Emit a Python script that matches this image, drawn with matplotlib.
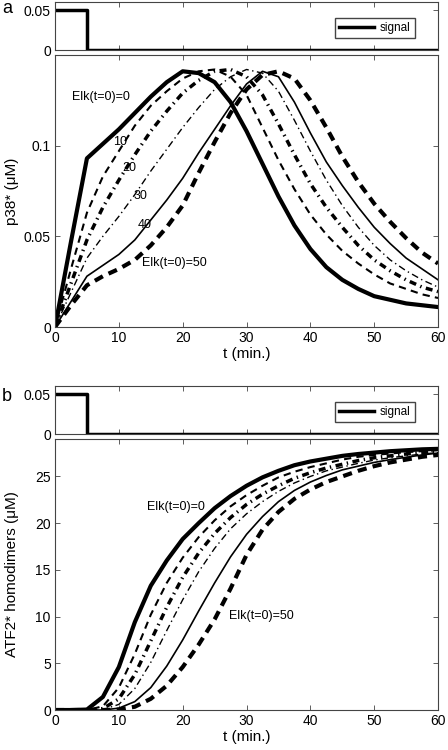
import numpy as np
import matplotlib.pyplot as plt

plt.rcParams['font.family'] = ['Liberation Sans', 'DejaVu Sans']

# time grid (min.)
t = [0, 2.5, 5, 7.5, 10, 12.5, 15, 17.5, 20, 22.5, 25, 27.5, 30,
     32.5, 35, 37.5, 40, 42.5, 45, 47.5, 50, 52.5, 55, 57.5, 60]

# signal pulse
t_sig = [0, 5, 5, 60]
sig = [0.05, 0.05, 0, 0]

elk0 = [0, 10, 20, 30, 40, 50]

# panel a: p38* (uM)
p38_0 = [0, 0.047, 0.093, 0.101, 0.109, 0.118, 0.127, 0.135, 0.141, 0.140, 0.135, 0.124, 0.108,
         0.090, 0.072, 0.056, 0.043, 0.033, 0.026, 0.021, 0.017, 0.015, 0.013, 0.012, 0.011]
p38_10 = [0, 0.032, 0.063, 0.083, 0.097, 0.111, 0.122, 0.130, 0.137, 0.141, 0.142, 0.138, 0.128,
          0.110, 0.092, 0.076, 0.062, 0.051, 0.042, 0.035, 0.029, 0.024, 0.021, 0.018, 0.016]
p38_20 = [0, 0.024, 0.048, 0.066, 0.081, 0.095, 0.108, 0.119, 0.129, 0.136, 0.141, 0.142, 0.138,
          0.128, 0.112, 0.095, 0.079, 0.066, 0.055, 0.045, 0.037, 0.031, 0.026, 0.022, 0.0195]
p38_30 = [0, 0.019, 0.038, 0.050, 0.061, 0.073, 0.086, 0.098, 0.110, 0.121, 0.131, 0.138, 0.142,
          0.140, 0.130, 0.114, 0.097, 0.081, 0.067, 0.055, 0.045, 0.037, 0.031, 0.026, 0.022]
p38_40 = [0, 0.014, 0.028, 0.034, 0.040, 0.048, 0.059, 0.070, 0.082, 0.096, 0.109, 0.122, 0.134,
          0.141, 0.138, 0.124, 0.107, 0.091, 0.078, 0.066, 0.055, 0.046, 0.038, 0.032, 0.026]
p38_50 = [0, 0.012, 0.023, 0.028, 0.032, 0.037, 0.045, 0.055, 0.067, 0.085, 0.102, 0.118, 0.131,
          0.139, 0.141, 0.137, 0.125, 0.110, 0.094, 0.080, 0.068, 0.058, 0.049, 0.041, 0.035]

# panel b: ATF2* homodimers (uM)
atf_0 = [0, 0, 0.05, 1.4, 4.6, 9.4, 13.3, 16.0, 18.3, 20.0, 21.6, 22.9, 24.0,
         24.9, 25.6, 26.2, 26.6, 26.9, 27.2, 27.4, 27.55, 27.7, 27.8, 27.9, 27.95]
atf_10 = [0, 0, 0, 0.4, 2.4, 6.0, 10.2, 13.6, 16.3, 18.5, 20.3, 21.8, 23.0,
          24.0, 24.9, 25.5, 26.0, 26.4, 26.8, 27.1, 27.3, 27.45, 27.6, 27.7, 27.8]
atf_20 = [0, 0, 0, 0.15, 1.2, 3.8, 7.4, 11.0, 14.2, 16.8, 18.9, 20.6, 22.0,
          23.1, 24.0, 24.8, 25.4, 25.9, 26.3, 26.7, 27.0, 27.2, 27.4, 27.55, 27.7]
atf_30 = [0, 0, 0, 0.05, 0.6, 2.3, 5.1, 8.5, 11.8, 14.8, 17.3, 19.4, 21.0,
          22.3, 23.4, 24.3, 25.0, 25.6, 26.0, 26.4, 26.75, 27.0, 27.2, 27.4, 27.55]
atf_40 = [0, 0, 0, 0, 0.2, 0.9, 2.4, 4.7, 7.5, 10.6, 13.6, 16.4, 18.8,
          20.7, 22.3, 23.5, 24.4, 25.1, 25.7, 26.1, 26.5, 26.8, 27.05, 27.3, 27.5]
atf_50 = [0, 0, 0, 0, 0.05, 0.35, 1.2, 2.6, 4.6, 7.0, 9.7, 13.0, 16.6,
          19.3, 21.2, 22.6, 23.6, 24.4, 25.0, 25.6, 26.1, 26.5, 26.8, 27.1, 27.3]

p38 = [p38_0, p38_10, p38_20, p38_30, p38_40, p38_50]
atf = [atf_0, atf_10, atf_20, atf_30, atf_40, atf_50]

styles = [
    dict(lw=3.0, ls='-'),
    dict(lw=1.5, dashes=(3.5, 2.5)),
    dict(lw=2.5, dashes=(2, 1.3, 0.4, 1.3)),
    dict(lw=1.0, dashes=(5, 2.5, 1, 2.5)),
    dict(lw=1.2, ls='-'),
    dict(lw=3.0, dashes=(2.2, 1.5)),
]

frame = '#444444'


def style_axes(ax):
    ax.tick_params(direction='in', top=True, right=True, length=3.5, width=0.6,
                   color=frame, labelsize=10, pad=3)
    for s in ax.spines.values():
        s.set_linewidth(0.8)
        s.set_color(frame)
    ax.set_xlim(0, 60)
    ax.set_xticks(range(0, 61, 10))


def signal_axes(rect):
    ax = fig.add_axes(rect)
    ax.plot(t_sig, sig, color='k', lw=2.5, label='signal')
    style_axes(ax)
    ax.set_ylim(0, 0.06)
    ax.set_yticks([0, 0.05])
    ax.set_yticklabels(['0', '0.05'])
    ax.set_xticklabels([])
    ax.legend(loc='upper right', bbox_to_anchor=(0.955, 0.8), fontsize=8.5,
              handlelength=3.0, fancybox=False, edgecolor=frame,
              framealpha=1, borderpad=0.35, handletextpad=0.5)
    return ax


fig = plt.figure(figsize=(4.48, 7.5), dpi=100)

# ---- panel a ----
signal_axes([0.1228, 0.9333, 0.855, 0.064])
ax = fig.add_axes([0.1228, 0.564, 0.855, 0.3627])
for y, st in zip(p38, styles):
    ax.plot(t, y, color='k', **st)
style_axes(ax)
ax.set_ylim(0, 0.15)
ax.set_yticks([0, 0.05, 0.1])
ax.set_yticklabels(['0', '0.05', '0.1'])
ax.set_xlabel('t (min.)', fontsize=11, labelpad=1)
ax.set_ylabel('p38* (μM)', fontsize=11)
ax.yaxis.set_label_coords(-0.095, 0.5)
ax.text(2.66, 0.127, 'Elk(t=0)=0', fontsize=9, va='center')
ax.text(9.1, 0.102, '10', fontsize=9, va='center')
ax.text(10.5, 0.0877, '20', fontsize=9, va='center')
ax.text(12.3, 0.072, '30', fontsize=9, va='center')
ax.text(13.0, 0.0564, '40', fontsize=9, va='center')
ax.text(13.6, 0.0352, 'Elk(t=0)=50', fontsize=9, va='center')

# ---- panel b ----
signal_axes([0.1228, 0.4213, 0.855, 0.064])
ax = fig.add_axes([0.1228, 0.0533, 0.855, 0.3613])
for y, st in zip(atf, styles):
    ax.plot(t, y, color='k', **st)
style_axes(ax)
ax.set_ylim(0, 29)
ax.set_yticks([0, 5, 10, 15, 20, 25])
ax.set_xlabel('t (min.)', fontsize=11, labelpad=1)
ax.set_ylabel('ATF2* homodimers (μM)', fontsize=11)
ax.yaxis.set_label_coords(-0.095, 0.5)
ax.text(14.4, 21.7, 'Elk(t=0)=0', fontsize=9, va='center')
ax.text(27.3, 10.1, 'Elk(t=0)=50', fontsize=9, va='center')

fig.text(0.005, 0.9827, 'a', fontsize=13, va='baseline')
fig.text(0.005, 0.4653, 'b', fontsize=13, va='baseline')

fig.savefig('out.png', dpi=100)
